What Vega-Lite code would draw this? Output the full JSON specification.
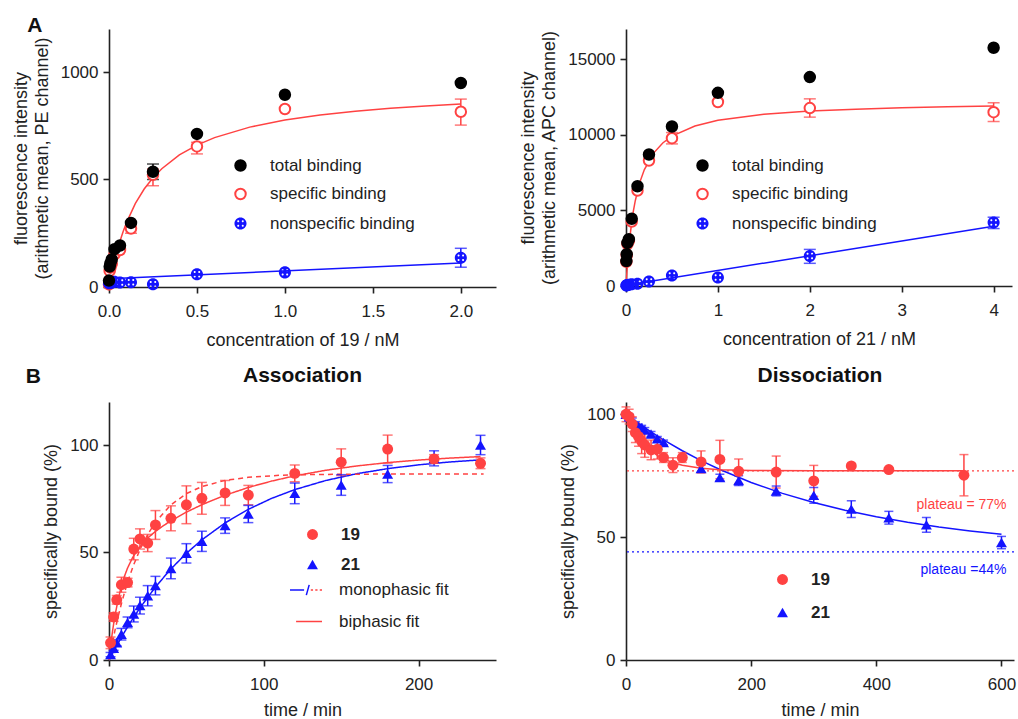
{
 "$schema": "https://vega.github.io/schema/vega-lite/v6.json",
 "padding": {"left": 12, "top": 15, "right": 2, "bottom": 3},
 "config": {
  "font": "Liberation Sans",
  "view": {"stroke": null},
  "axis": {"domainColor": "#222", "domainWidth": 1.6, "tickColor": "#222", "tickWidth": 1.6, "tickSize": 6, "labelFontSize": 17, "labelColor": "#222", "titleFontSize": 18, "titleFontWeight": "normal", "titleColor": "#222", "grid": false, "labelFlush": false, "titleLineHeight": 21},
  "axisX": {"titlePadding": 12, "labelPadding": 10},
  "axisY": {"titlePadding": 9, "labelPadding": 5},
  "legend": {"labelFontSize": 17, "labelColor": "#222", "padding": 0, "labelLimit": 300},
  "title": {"fontSize": 21, "fontWeight": "bold", "color": "#111"}
 },
 "datasets": {
  "a1": [
   {"c":0,"v":12,"type":"specific binding"},{"c":0.0039,"v":75,"type":"specific binding"},{"c":0.0078,"v":90,"type":"specific binding"},{"c":0.0156,"v":108,"type":"specific binding"},{"c":0.03125,"v":152,"type":"specific binding"},{"c":0.0625,"v":172,"type":"specific binding"},{"c":0.125,"v":272,"type":"specific binding"},{"c":0.25,"v":522,"type":"specific binding"},{"c":0.5,"v":654,"type":"specific binding"},{"c":1,"v":828,"type":"specific binding"},{"c":2,"v":815,"type":"specific binding"},
   {"c":0,"v":18,"type":"nonspecific binding"},{"c":0.0039,"v":20,"type":"nonspecific binding"},{"c":0.0078,"v":20,"type":"nonspecific binding"},{"c":0.0156,"v":20,"type":"nonspecific binding"},{"c":0.03125,"v":24,"type":"nonspecific binding"},{"c":0.0625,"v":21,"type":"nonspecific binding"},{"c":0.125,"v":22,"type":"nonspecific binding"},{"c":0.25,"v":13,"type":"nonspecific binding"},{"c":0.5,"v":59,"type":"nonspecific binding"},{"c":1,"v":68,"type":"nonspecific binding"},{"c":2,"v":136,"type":"nonspecific binding"},
   {"c":0,"v":30,"type":"total binding"},{"c":0.0039,"v":95,"type":"total binding"},{"c":0.0078,"v":110,"type":"total binding"},{"c":0.0156,"v":128,"type":"total binding"},{"c":0.03125,"v":176,"type":"total binding"},{"c":0.0625,"v":193,"type":"total binding"},{"c":0.125,"v":298,"type":"total binding"},{"c":0.25,"v":536,"type":"total binding"},{"c":0.5,"v":712,"type":"total binding"},{"c":1,"v":894,"type":"total binding"},{"c":2,"v":949,"type":"total binding"}
  ],
  "a1err": [
   {"c":0.25,"lo":500,"hi":572,"type":"total binding"},
   {"c":0.125,"lo":250,"hi":292,"type":"specific binding"},
   {"c":0.25,"lo":471,"hi":549,"type":"specific binding"},
   {"c":0.5,"lo":619,"hi":673,"type":"specific binding"},
   {"c":2,"lo":753,"hi":874,"type":"specific binding"},
   {"c":2,"lo":92,"hi":180,"type":"nonspecific binding"}
  ],
  "a1fit": [
   {"c":0,"v":0,"type":"specific binding"},{"c":0.01,"v":42.1,"type":"specific binding"},{"c":0.02,"v":80.7,"type":"specific binding"},{"c":0.04,"v":148.6,"type":"specific binding"},{"c":0.06,"v":206.7,"type":"specific binding"},{"c":0.08,"v":256.8,"type":"specific binding"},{"c":0.1,"v":300.5,"type":"specific binding"},{"c":0.15,"v":388.7,"type":"specific binding"},{"c":0.2,"v":455.6,"type":"specific binding"},{"c":0.25,"v":508.1,"type":"specific binding"},{"c":0.3,"v":550.3,"type":"specific binding"},{"c":0.4,"v":614.2,"type":"specific binding"},{"c":0.5,"v":660.1,"type":"specific binding"},{"c":0.6,"v":694.8,"type":"specific binding"},{"c":0.8,"v":743.6,"type":"specific binding"},{"c":1.0,"v":776.3,"type":"specific binding"},{"c":1.2,"v":799.7,"type":"specific binding"},{"c":1.4,"v":817.4,"type":"specific binding"},{"c":1.6,"v":831.1,"type":"specific binding"},{"c":1.8,"v":842.1,"type":"specific binding"},{"c":2.0,"v":851.1,"type":"specific binding"},
   {"c":0,"v":38,"type":"nonspecific binding"},{"c":2,"v":112,"type":"nonspecific binding"}
  ],
  "a2": [
   {"c":0.0039,"v":1600,"type":"specific binding"},{"c":0.0078,"v":2040,"type":"specific binding"},{"c":0.0156,"v":2780,"type":"specific binding"},{"c":0.03125,"v":2990,"type":"specific binding"},{"c":0.0625,"v":4260,"type":"specific binding"},{"c":0.125,"v":6310,"type":"specific binding"},{"c":0.25,"v":8300,"type":"specific binding"},{"c":0.5,"v":9780,"type":"specific binding"},{"c":1,"v":12170,"type":"specific binding"},{"c":2,"v":11770,"type":"specific binding"},{"c":4,"v":11500,"type":"specific binding"},
   {"c":0.0039,"v":30,"type":"nonspecific binding"},{"c":0.0078,"v":45,"type":"nonspecific binding"},{"c":0.0156,"v":60,"type":"nonspecific binding"},{"c":0.03125,"v":80,"type":"nonspecific binding"},{"c":0.0625,"v":110,"type":"nonspecific binding"},{"c":0.125,"v":150,"type":"nonspecific binding"},{"c":0.25,"v":300,"type":"nonspecific binding"},{"c":0.5,"v":700,"type":"nonspecific binding"},{"c":1,"v":560,"type":"nonspecific binding"},{"c":2,"v":1980,"type":"nonspecific binding"},{"c":4,"v":4200,"type":"nonspecific binding"},
   {"c":0.0039,"v":1650,"type":"total binding"},{"c":0.0078,"v":2100,"type":"total binding"},{"c":0.0156,"v":2850,"type":"total binding"},{"c":0.03125,"v":3100,"type":"total binding"},{"c":0.0625,"v":4450,"type":"total binding"},{"c":0.125,"v":6600,"type":"total binding"},{"c":0.25,"v":8700,"type":"total binding"},{"c":0.5,"v":10550,"type":"total binding"},{"c":1,"v":12780,"type":"total binding"},{"c":2,"v":13820,"type":"total binding"},{"c":4,"v":15760,"type":"total binding"}
  ],
  "a2err": [
   {"c":0.5,"lo":9400,"hi":10150,"type":"specific binding"},
   {"c":2,"lo":11170,"hi":12380,"type":"specific binding"},
   {"c":4,"lo":10880,"hi":12120,"type":"specific binding"},
   {"c":2,"lo":1500,"hi":2420,"type":"nonspecific binding"},
   {"c":4,"lo":3800,"hi":4550,"type":"nonspecific binding"}
  ],
  "a2fit": [
   {"c":0,"v":0,"type":"specific binding"},{"c":0.005,"v":498,"type":"specific binding"},{"c":0.01,"v":957,"type":"specific binding"},{"c":0.02,"v":1775,"type":"specific binding"},{"c":0.04,"v":3101,"type":"specific binding"},{"c":0.06,"v":4129,"type":"specific binding"},{"c":0.08,"v":4949,"type":"specific binding"},{"c":0.1,"v":5619,"type":"specific binding"},{"c":0.15,"v":6856,"type":"specific binding"},{"c":0.2,"v":7704,"type":"specific binding"},{"c":0.3,"v":8792,"type":"specific binding"},{"c":0.4,"v":9459,"type":"specific binding"},{"c":0.5,"v":9911,"type":"specific binding"},{"c":0.75,"v":10585,"type":"specific binding"},{"c":1,"v":10957,"type":"specific binding"},{"c":1.5,"v":11357,"type":"specific binding"},{"c":2,"v":11568,"type":"specific binding"},{"c":2.5,"v":11698,"type":"specific binding"},{"c":3,"v":11786,"type":"specific binding"},{"c":3.5,"v":11850,"type":"specific binding"},{"c":4,"v":11899,"type":"specific binding"},
   {"c":0,"v":50,"type":"nonspecific binding"},{"c":4,"v":3950,"type":"nonspecific binding"}
  ],
  "b1": [
   {"t":1,"v":2.5,"lo":1.5,"hi":3.5,"compound":"21"},{"t":3,"v":5.5,"lo":4.5,"hi":6.5,"compound":"21"},{"t":5,"v":8,"lo":6.5,"hi":9.5,"compound":"21"},{"t":8,"v":12,"lo":9.3,"hi":14.7,"compound":"21"},{"t":12,"v":17.5,"lo":15,"hi":20,"compound":"21"},{"t":16,"v":21.4,"lo":17.7,"hi":25.1,"compound":"21"},{"t":20,"v":25.3,"lo":21.4,"hi":29.2,"compound":"21"},{"t":25,"v":29.9,"lo":25.2,"hi":34.6,"compound":"21"},{"t":30,"v":34.6,"lo":30.3,"hi":38.9,"compound":"21"},{"t":40,"v":42.6,"lo":37.8,"hi":47.4,"compound":"21"},{"t":50,"v":49.6,"lo":45.1,"hi":54.1,"compound":"21"},{"t":60,"v":55.2,"lo":50.5,"hi":59.9,"compound":"21"},{"t":75,"v":62.5,"lo":58.9,"hi":66.1,"compound":"21"},{"t":90,"v":67.9,"lo":63.9,"hi":71.9,"compound":"21"},{"t":120,"v":77.5,"lo":72.7,"hi":82.3,"compound":"21"},{"t":150,"v":81.4,"lo":76.6,"hi":86.2,"compound":"21"},{"t":180,"v":86.5,"lo":82.5,"hi":90.5,"compound":"21"},{"t":210,"v":93.8,"lo":90.3,"hi":97.3,"compound":"21"},{"t":240,"v":100,"lo":95.5,"hi":104.5,"compound":"21"},
   {"t":1,"v":8,"lo":5.3,"hi":10.7,"compound":"19"},{"t":3,"v":20,"lo":18,"hi":22,"compound":"19"},{"t":5,"v":28,"lo":26,"hi":30,"compound":"19"},{"t":8,"v":35,"lo":31.5,"hi":38.5,"compound":"19"},{"t":12,"v":36,"lo":34,"hi":38,"compound":"19"},{"t":16,"v":51.6,"lo":46.6,"hi":56.6,"compound":"19"},{"t":20,"v":56.3,"lo":51.6,"hi":61,"compound":"19"},{"t":25,"v":54.4,"lo":50.4,"hi":58.4,"compound":"19"},{"t":30,"v":62.8,"lo":56.1,"hi":69.5,"compound":"19"},{"t":40,"v":65.9,"lo":60.1,"hi":71.7,"compound":"19"},{"t":50,"v":72.2,"lo":63.4,"hi":81,"compound":"19"},{"t":60,"v":75.2,"lo":67.8,"hi":82.6,"compound":"19"},{"t":75,"v":77.7,"lo":71.9,"hi":83.5,"compound":"19"},{"t":90,"v":76.7,"lo":72.2,"hi":81.2,"compound":"19"},{"t":120,"v":86.8,"lo":82.9,"hi":90.7,"compound":"19"},{"t":150,"v":92,"lo":85.8,"hi":98.2,"compound":"19"},{"t":180,"v":98.1,"lo":91.6,"hi":104.6,"compound":"19"},{"t":210,"v":93.5,"lo":91.5,"hi":95.5,"compound":"19"},{"t":240,"v":91.5,"lo":89,"hi":94,"compound":"19"}
  ],
  "b1fit": [
   {"t":0,"v":0,"compound":"21","curve":"21m","fit":"monophasic fit"},{"t":5,"v":6.74,"compound":"21","curve":"21m","fit":"monophasic fit"},{"t":10,"v":13.0,"compound":"21","curve":"21m","fit":"monophasic fit"},{"t":15,"v":18.82,"compound":"21","curve":"21m","fit":"monophasic fit"},{"t":20,"v":24.24,"compound":"21","curve":"21m","fit":"monophasic fit"},{"t":30,"v":33.96,"compound":"21","curve":"21m","fit":"monophasic fit"},{"t":40,"v":42.36,"compound":"21","curve":"21m","fit":"monophasic fit"},{"t":50,"v":49.62,"compound":"21","curve":"21m","fit":"monophasic fit"},{"t":60,"v":55.9,"compound":"21","curve":"21m","fit":"monophasic fit"},{"t":75,"v":63.76,"compound":"21","curve":"21m","fit":"monophasic fit"},{"t":90,"v":70.08,"compound":"21","curve":"21m","fit":"monophasic fit"},{"t":105,"v":75.16,"compound":"21","curve":"21m","fit":"monophasic fit"},{"t":120,"v":79.25,"compound":"21","curve":"21m","fit":"monophasic fit"},{"t":140,"v":83.48,"compound":"21","curve":"21m","fit":"monophasic fit"},{"t":160,"v":86.64,"compound":"21","curve":"21m","fit":"monophasic fit"},{"t":180,"v":89.0,"compound":"21","curve":"21m","fit":"monophasic fit"},{"t":200,"v":90.77,"compound":"21","curve":"21m","fit":"monophasic fit"},{"t":220,"v":92.09,"compound":"21","curve":"21m","fit":"monophasic fit"},{"t":240,"v":93.08,"compound":"21","curve":"21m","fit":"monophasic fit"},
   {"t":0,"v":0,"compound":"19","curve":"19m","fit":"monophasic fit"},{"t":2,"v":7.45,"compound":"19","curve":"19m","fit":"monophasic fit"},{"t":4,"v":14.25,"compound":"19","curve":"19m","fit":"monophasic fit"},{"t":6,"v":20.47,"compound":"19","curve":"19m","fit":"monophasic fit"},{"t":8,"v":26.15,"compound":"19","curve":"19m","fit":"monophasic fit"},{"t":10,"v":31.35,"compound":"19","curve":"19m","fit":"monophasic fit"},{"t":13,"v":38.31,"compound":"19","curve":"19m","fit":"monophasic fit"},{"t":16,"v":44.39,"compound":"19","curve":"19m","fit":"monophasic fit"},{"t":20,"v":51.33,"compound":"19","curve":"19m","fit":"monophasic fit"},{"t":25,"v":58.41,"compound":"19","curve":"19m","fit":"monophasic fit"},{"t":30,"v":64.08,"compound":"19","curve":"19m","fit":"monophasic fit"},{"t":40,"v":72.2,"compound":"19","curve":"19m","fit":"monophasic fit"},{"t":50,"v":77.38,"compound":"19","curve":"19m","fit":"monophasic fit"},{"t":60,"v":80.69,"compound":"19","curve":"19m","fit":"monophasic fit"},{"t":75,"v":83.54,"compound":"19","curve":"19m","fit":"monophasic fit"},{"t":90,"v":84.99,"compound":"19","curve":"19m","fit":"monophasic fit"},{"t":110,"v":85.89,"compound":"19","curve":"19m","fit":"monophasic fit"},{"t":130,"v":86.25,"compound":"19","curve":"19m","fit":"monophasic fit"},{"t":160,"v":86.44,"compound":"19","curve":"19m","fit":"monophasic fit"},{"t":200,"v":86.5,"compound":"19","curve":"19m","fit":"monophasic fit"},{"t":242,"v":86.5,"compound":"19","curve":"19m","fit":"monophasic fit"},
   {"t":0,"v":0,"compound":"19","curve":"19b","fit":"biphasic fit"},{"t":1,"v":6.32,"compound":"19","curve":"19b","fit":"biphasic fit"},{"t":2,"v":11.89,"compound":"19","curve":"19b","fit":"biphasic fit"},{"t":3,"v":16.82,"compound":"19","curve":"19b","fit":"biphasic fit"},{"t":4,"v":21.18,"compound":"19","curve":"19b","fit":"biphasic fit"},{"t":6,"v":28.49,"compound":"19","curve":"19b","fit":"biphasic fit"},{"t":8,"v":34.3,"compound":"19","curve":"19b","fit":"biphasic fit"},{"t":10,"v":38.98,"compound":"19","curve":"19b","fit":"biphasic fit"},{"t":12,"v":42.78,"compound":"19","curve":"19b","fit":"biphasic fit"},{"t":15,"v":47.3,"compound":"19","curve":"19b","fit":"biphasic fit"},{"t":18,"v":50.81,"compound":"19","curve":"19b","fit":"biphasic fit"},{"t":22,"v":54.45,"compound":"19","curve":"19b","fit":"biphasic fit"},{"t":26,"v":57.36,"compound":"19","curve":"19b","fit":"biphasic fit"},{"t":30,"v":59.8,"compound":"19","curve":"19b","fit":"biphasic fit"},{"t":35,"v":62.42,"compound":"19","curve":"19b","fit":"biphasic fit"},{"t":40,"v":64.74,"compound":"19","curve":"19b","fit":"biphasic fit"},{"t":50,"v":68.77,"compound":"19","curve":"19b","fit":"biphasic fit"},{"t":60,"v":72.24,"compound":"19","curve":"19b","fit":"biphasic fit"},{"t":75,"v":76.63,"compound":"19","curve":"19b","fit":"biphasic fit"},{"t":90,"v":80.24,"compound":"19","curve":"19b","fit":"biphasic fit"},{"t":105,"v":83.21,"compound":"19","curve":"19b","fit":"biphasic fit"},{"t":120,"v":85.65,"compound":"19","curve":"19b","fit":"biphasic fit"},{"t":140,"v":88.25,"compound":"19","curve":"19b","fit":"biphasic fit"},{"t":160,"v":90.25,"compound":"19","curve":"19b","fit":"biphasic fit"},{"t":180,"v":91.8,"compound":"19","curve":"19b","fit":"biphasic fit"},{"t":200,"v":92.99,"compound":"19","curve":"19b","fit":"biphasic fit"},{"t":220,"v":93.91,"compound":"19","curve":"19b","fit":"biphasic fit"},{"t":240,"v":94.62,"compound":"19","curve":"19b","fit":"biphasic fit"}
  ],
  "b2": [
   {"t":0,"v":100,"lo":99,"hi":101,"compound":"21"},{"t":5,"v":99,"lo":98,"hi":100,"compound":"21"},{"t":10,"v":97.5,"lo":96.5,"hi":98.5,"compound":"21"},{"t":15,"v":96,"lo":95,"hi":97,"compound":"21"},{"t":20,"v":95,"lo":94,"hi":96,"compound":"21"},{"t":25,"v":94.5,"lo":93.5,"hi":95.5,"compound":"21"},{"t":30,"v":93.6,"lo":92.6,"hi":94.6,"compound":"21"},{"t":40,"v":92,"lo":91,"hi":93,"compound":"21"},{"t":50,"v":90,"lo":89,"hi":91,"compound":"21"},{"t":60,"v":88.5,"lo":87.5,"hi":89.5,"compound":"21"},{"t":120,"v":77.9,"lo":76.4,"hi":79.4,"compound":"21"},{"t":150,"v":74.3,"lo":73,"hi":75.6,"compound":"21"},{"t":180,"v":73,"lo":71,"hi":75,"compound":"21"},{"t":240,"v":68.8,"lo":66.8,"hi":70.8,"compound":"21"},{"t":300,"v":67,"lo":63.8,"hi":70.2,"compound":"21"},{"t":360,"v":61.4,"lo":58,"hi":64.8,"compound":"21"},{"t":420,"v":57.9,"lo":55.3,"hi":60.5,"compound":"21"},{"t":480,"v":55,"lo":52,"hi":58,"compound":"21"},{"t":600,"v":47.8,"lo":45.3,"hi":50.3,"compound":"21"},
   {"t":0,"v":100,"lo":97,"hi":103,"compound":"19"},{"t":5,"v":99,"lo":96,"hi":102,"compound":"19"},{"t":10,"v":96,"lo":93,"hi":99,"compound":"19"},{"t":15,"v":92.5,"lo":88.5,"hi":96.5,"compound":"19"},{"t":20,"v":91,"lo":87,"hi":95,"compound":"19"},{"t":25,"v":89,"lo":84,"hi":94,"compound":"19"},{"t":30,"v":87.5,"lo":82.5,"hi":92.5,"compound":"19"},{"t":40,"v":85.5,"lo":81.5,"hi":89.5,"compound":"19"},{"t":50,"v":85.8,"lo":81.8,"hi":89.8,"compound":"19"},{"t":60,"v":82.4,"lo":80.4,"hi":84.4,"compound":"19"},{"t":75,"v":79.3,"lo":76.3,"hi":82.3,"compound":"19"},{"t":90,"v":82.4,"lo":80.4,"hi":84.4,"compound":"19"},{"t":120,"v":80.6,"lo":76.1,"hi":85.1,"compound":"19"},{"t":150,"v":81.6,"lo":73.8,"hi":89.4,"compound":"19"},{"t":180,"v":76.8,"lo":71.8,"hi":81.8,"compound":"19"},{"t":240,"v":76.5,"lo":70,"hi":83,"compound":"19"},{"t":300,"v":72.9,"lo":66.6,"hi":79.2,"compound":"19"},{"t":360,"v":79,"lo":78.5,"hi":79.5,"compound":"19"},{"t":420,"v":77.5,"lo":77,"hi":78,"compound":"19"},{"t":540,"v":75.2,"lo":66.8,"hi":83.6,"compound":"19"}
  ],
  "b2fit": [
   {"t":0,"v":100,"compound":"21"},{"t":20,"v":96.3,"compound":"21"},{"t":40,"v":92.84,"compound":"21"},{"t":60,"v":89.61,"compound":"21"},{"t":90,"v":85.17,"compound":"21"},{"t":120,"v":81.15,"compound":"21"},{"t":150,"v":77.53,"compound":"21"},{"t":200,"v":72.26,"compound":"21"},{"t":250,"v":67.82,"compound":"21"},{"t":300,"v":64.07,"compound":"21"},{"t":350,"v":60.92,"compound":"21"},{"t":400,"v":58.26,"compound":"21"},{"t":450,"v":56.02,"compound":"21"},{"t":500,"v":54.13,"compound":"21"},{"t":550,"v":52.54,"compound":"21"},{"t":600,"v":51.19,"compound":"21"},
   {"t":0,"v":100,"compound":"19"},{"t":5,"v":97.2,"compound":"19"},{"t":10,"v":94.73,"compound":"19"},{"t":15,"v":92.57,"compound":"19"},{"t":20,"v":90.67,"compound":"19"},{"t":30,"v":87.54,"compound":"19"},{"t":40,"v":85.13,"compound":"19"},{"t":50,"v":83.27,"compound":"19"},{"t":60,"v":81.83,"compound":"19"},{"t":75,"v":80.27,"compound":"19"},{"t":90,"v":79.22,"compound":"19"},{"t":120,"v":78.02,"compound":"19"},{"t":150,"v":77.47,"compound":"19"},{"t":200,"v":77.13,"compound":"19"},{"t":300,"v":77.01,"compound":"19"},{"t":400,"v":77.0,"compound":"19"},{"t":540,"v":77.0,"compound":"19"}
  ],
  "plateaus": [
   {"compound":"19","plateau":77,"label":"plateau = 77%"},
   {"compound":"21","plateau":44,"label":"plateau =44%"}
  ]
 },
 "resolve": {"scale": {"color": "independent", "fill": "independent", "stroke": "independent", "shape": "independent", "strokeDash": "independent"}},
 "vconcat": [
  {
   "title": {"text": "A", "anchor": "start", "fontSize": 21, "offset": -7, "dx": 15},
   "spacing": 130,
   "bounds": "flush",
   "resolve": {"scale": {"color": "independent", "fill": "independent", "stroke": "independent", "shape": "independent", "strokeDash": "independent"}},
   "hconcat": [
    {
     "width": 387, "height": 258,
     "layer": [
      {"data": {"name": "a1fit"}, "mark": {"type": "line", "strokeWidth": 1.5},
       "encoding": {
        "x": {"field": "c", "type": "quantitative", "scale": {"domain": [0, 2.2], "nice": false, "zero": false, "padding": 0}, "axis": {"title": "concentration of 19 / nM", "values": [0, 0.5, 1, 1.5, 2], "format": ".1f"}},
        "y": {"field": "v", "type": "quantitative", "scale": {"domain": [0, 1200], "nice": false, "padding": 0}, "axis": {"title": ["fluorescence intensity", "(arithmetic mean, PE channel)"], "values": [0, 500, 1000], "format": "d"}},
        "color": {"field": "type", "type": "nominal", "scale": {"domain": ["specific binding", "nonspecific binding", "total binding"], "range": ["#ff4242", "#1414ff", "#000000"]}, "legend": null}
       }},
      {"data": {"name": "a1err"}, "mark": {"type": "rule", "strokeWidth": 1.5},
       "encoding": {"x": {"field": "c", "type": "quantitative"}, "y": {"field": "lo", "type": "quantitative"}, "y2": {"field": "hi"}, "color": {"field": "type", "type": "nominal", "legend": null}}},
      {"data": {"name": "a1err"}, "mark": {"type": "tick", "orient": "horizontal", "size": 12, "thickness": 1.5},
       "encoding": {"x": {"field": "c", "type": "quantitative"}, "y": {"field": "lo", "type": "quantitative"}, "color": {"field": "type", "type": "nominal", "legend": null}}},
      {"data": {"name": "a1err"}, "mark": {"type": "tick", "orient": "horizontal", "size": 12, "thickness": 1.5},
       "encoding": {"x": {"field": "c", "type": "quantitative"}, "y": {"field": "hi", "type": "quantitative"}, "color": {"field": "type", "type": "nominal", "legend": null}}},
      {"data": {"name": "a1"}, "mark": {"type": "point", "size": 110, "strokeWidth": 2, "opacity": 1},
       "encoding": {
        "x": {"field": "c", "type": "quantitative"},
        "y": {"field": "v", "type": "quantitative"},
        "fill": {"field": "type", "type": "nominal", "scale": {"domain": ["total binding", "specific binding", "nonspecific binding"], "range": ["#000000", "#ffffff", "#1414ff"]}, "legend": {"title": null, "orient": "none", "legendX": 123, "legendY": 128, "rowPadding": 9.5, "labelOffset": 21, "symbolSize": 110, "symbolStrokeWidth": 2}},
        "stroke": {"field": "type", "type": "nominal", "scale": {"domain": ["total binding", "specific binding", "nonspecific binding"], "range": ["#000000", "#ff4242", "transparent"]}, "legend": {"title": null, "orient": "none", "legendX": 123, "legendY": 128, "rowPadding": 9.5, "labelOffset": 21, "symbolSize": 110, "symbolStrokeWidth": 2}},
        "shape": {"field": "type", "type": "nominal", "scale": {"domain": ["total binding", "specific binding", "nonspecific binding"], "range": ["circle", "circle", "M-1.15,0A1.15,1.15 0 1,1 1.15,0A1.15,1.15 0 1,1 -1.15,0ZM-0.62,-0.42A0.19,0.19 0 1,0 -0.24,-0.42A0.19,0.19 0 1,0 -0.62,-0.42ZM0.24,-0.42A0.19,0.19 0 1,0 0.62,-0.42A0.19,0.19 0 1,0 0.24,-0.42ZM-0.62,0.42A0.19,0.19 0 1,0 -0.24,0.42A0.19,0.19 0 1,0 -0.62,0.42ZM0.24,0.42A0.19,0.19 0 1,0 0.62,0.42A0.19,0.19 0 1,0 0.24,0.42Z"]}, "legend": {"title": null, "orient": "none", "legendX": 123, "legendY": 128, "rowPadding": 9.5, "labelOffset": 21, "symbolSize": 110, "symbolStrokeWidth": 2}}
       }}
     ]
    },
    {
     "width": 386, "height": 257,
     "layer": [
      {"data": {"name": "a2fit"}, "mark": {"type": "line", "strokeWidth": 1.5},
       "encoding": {
        "x": {"field": "c", "type": "quantitative", "scale": {"domain": [0, 4.2], "nice": false, "zero": false, "padding": 0}, "axis": {"title": "concentration of 21 / nM", "values": [0, 1, 2, 3, 4], "format": "d"}},
        "y": {"field": "v", "type": "quantitative", "scale": {"domain": [0, 17000], "nice": false, "padding": 0}, "axis": {"title": ["fluorescence intensity", "(arithmetic mean, APC channel)"], "values": [0, 5000, 10000, 15000], "format": "d"}},
        "color": {"field": "type", "type": "nominal", "scale": {"domain": ["specific binding", "nonspecific binding", "total binding"], "range": ["#ff4242", "#1414ff", "#000000"]}, "legend": null}
       }},
      {"data": {"name": "a2err"}, "mark": {"type": "rule", "strokeWidth": 1.5},
       "encoding": {"x": {"field": "c", "type": "quantitative"}, "y": {"field": "lo", "type": "quantitative"}, "y2": {"field": "hi"}, "color": {"field": "type", "type": "nominal", "legend": null}}},
      {"data": {"name": "a2err"}, "mark": {"type": "tick", "orient": "horizontal", "size": 12, "thickness": 1.5},
       "encoding": {"x": {"field": "c", "type": "quantitative"}, "y": {"field": "lo", "type": "quantitative"}, "color": {"field": "type", "type": "nominal", "legend": null}}},
      {"data": {"name": "a2err"}, "mark": {"type": "tick", "orient": "horizontal", "size": 12, "thickness": 1.5},
       "encoding": {"x": {"field": "c", "type": "quantitative"}, "y": {"field": "hi", "type": "quantitative"}, "color": {"field": "type", "type": "nominal", "legend": null}}},
      {"data": {"name": "a2"}, "mark": {"type": "point", "size": 110, "strokeWidth": 2, "opacity": 1},
       "encoding": {
        "x": {"field": "c", "type": "quantitative"},
        "y": {"field": "v", "type": "quantitative"},
        "fill": {"field": "type", "type": "nominal", "scale": {"domain": ["total binding", "specific binding", "nonspecific binding"], "range": ["#000000", "#ffffff", "#1414ff"]}, "legend": {"title": null, "orient": "none", "legendX": 68, "legendY": 128, "rowPadding": 9.5, "labelOffset": 21, "symbolSize": 110, "symbolStrokeWidth": 2}},
        "stroke": {"field": "type", "type": "nominal", "scale": {"domain": ["total binding", "specific binding", "nonspecific binding"], "range": ["#000000", "#ff4242", "transparent"]}, "legend": {"title": null, "orient": "none", "legendX": 68, "legendY": 128, "rowPadding": 9.5, "labelOffset": 21, "symbolSize": 110, "symbolStrokeWidth": 2}},
        "shape": {"field": "type", "type": "nominal", "scale": {"domain": ["total binding", "specific binding", "nonspecific binding"], "range": ["circle", "circle", "M-1.15,0A1.15,1.15 0 1,1 1.15,0A1.15,1.15 0 1,1 -1.15,0ZM-0.62,-0.42A0.19,0.19 0 1,0 -0.24,-0.42A0.19,0.19 0 1,0 -0.62,-0.42ZM0.24,-0.42A0.19,0.19 0 1,0 0.62,-0.42A0.19,0.19 0 1,0 0.24,-0.42ZM-0.62,0.42A0.19,0.19 0 1,0 -0.24,0.42A0.19,0.19 0 1,0 -0.62,0.42ZM0.24,0.42A0.19,0.19 0 1,0 0.62,0.42A0.19,0.19 0 1,0 0.24,0.42Z"]}, "legend": {"title": null, "orient": "none", "legendX": 68, "legendY": 128, "rowPadding": 9.5, "labelOffset": 21, "symbolSize": 110, "symbolStrokeWidth": 2}}
       }}
     ]
    }
   ]
  },
  {
   "title": {"text": "B", "anchor": "start", "fontSize": 21, "offset": -22, "dx": -17},
   "spacing": 130,
   "bounds": "flush",
   "resolve": {"scale": {"color": "independent", "fill": "independent", "stroke": "independent", "shape": "independent", "strokeDash": "independent"}},
   "hconcat": [
    {
     "width": 387, "height": 258,
     "title": {"text": "Association", "offset": 16},
     "layer": [
      {"layer": [
       {"data": {"name": "b1fit"}, "mark": {"type": "line", "strokeWidth": 1.5},
        "encoding": {
         "x": {"field": "t", "type": "quantitative", "scale": {"domain": [0, 250], "nice": false, "zero": false, "padding": 0}, "axis": {"title": "time / min", "values": [0, 100, 200], "titlePadding": 9}},
         "y": {"field": "v", "type": "quantitative", "scale": {"domain": [0, 120], "nice": false, "padding": 0}, "axis": {"title": "specifically bound (%)", "values": [0, 50, 100]}},
         "color": {"field": "compound", "type": "nominal", "scale": {"domain": ["21", "19"], "range": ["#1414ff", "#ff4242"]}, "legend": null},
         "strokeDash": {"field": "curve", "type": "nominal", "scale": {"domain": ["19m", "19b", "21m"], "range": [[5, 4], [1, 0], [1, 0]]}, "legend": null}
        }},
       {"data": {"name": "b1"}, "mark": {"type": "rule", "strokeWidth": 1.5},
        "encoding": {"x": {"field": "t", "type": "quantitative"}, "y": {"field": "lo", "type": "quantitative"}, "y2": {"field": "hi"}, "color": {"field": "compound", "type": "nominal", "legend": null}}},
       {"data": {"name": "b1"}, "mark": {"type": "tick", "orient": "horizontal", "size": 10, "thickness": 1.5},
        "encoding": {"x": {"field": "t", "type": "quantitative"}, "y": {"field": "lo", "type": "quantitative"}, "color": {"field": "compound", "type": "nominal", "legend": null}}},
       {"data": {"name": "b1"}, "mark": {"type": "tick", "orient": "horizontal", "size": 10, "thickness": 1.5},
        "encoding": {"x": {"field": "t", "type": "quantitative"}, "y": {"field": "hi", "type": "quantitative"}, "color": {"field": "compound", "type": "nominal", "legend": null}}},
       {"data": {"name": "b1"}, "mark": {"type": "point", "filled": true, "size": 120, "opacity": 1},
        "encoding": {
         "x": {"field": "t", "type": "quantitative"},
         "y": {"field": "v", "type": "quantitative"},
         "fill": {"field": "compound", "type": "nominal", "scale": {"domain": ["19", "21"], "range": ["#ff4242", "#1414ff"]}, "legend": {"title": null, "orient": "none", "legendX": 195, "legendY": 124, "rowPadding": 12, "labelOffset": 20, "labelFontWeight": "bold", "symbolSize": 120}},
         "shape": {"field": "compound", "type": "nominal", "scale": {"domain": ["19", "21"], "range": ["circle", "triangle-up"]}, "legend": {"title": null, "orient": "none", "legendX": 195, "legendY": 124, "rowPadding": 12, "labelOffset": 20, "labelFontWeight": "bold", "symbolSize": 120}}
        }}
      ]},
      {"layer": [
       {"data": {"name": "b1fit"}, "mark": {"type": "point", "opacity": 0},
        "encoding": {
         "x": {"field": "t", "type": "quantitative"},
         "y": {"field": "v", "type": "quantitative"},
         "shape": {"field": "fit", "type": "nominal", "scale": {"domain": ["monophasic fit", "biphasic fit"], "range": ["M-1,0L-0.12,0M0.02,0.32L0.2,-0.32", "M-0.62,0L1,0"]}, "legend": {"title": null, "orient": "none", "legendX": 180, "legendY": 171, "rowPadding": 5.5, "labelOffset": 16, "symbolSize": 1024, "symbolStrokeWidth": 1.5, "symbolOpacity": 1}},
         "stroke": {"field": "fit", "type": "nominal", "scale": {"domain": ["monophasic fit", "biphasic fit"], "range": ["#1414ff", "#ff4242"]}, "legend": {"title": null, "orient": "none", "legendX": 180, "legendY": 171, "rowPadding": 5.5, "labelOffset": 16, "symbolSize": 1024, "symbolStrokeWidth": 1.5, "symbolOpacity": 1}}
        }},
       {"data": {"name": "b1fit"}, "transform": [{"filter": "datum.curve == '19m'"}], "mark": {"type": "point", "opacity": 0, "color": "#ff4242"},
        "encoding": {
         "x": {"field": "t", "type": "quantitative"},
         "y": {"field": "v", "type": "quantitative"},
         "strokeDash": {"field": "fit", "type": "nominal", "scale": {"domain": ["monophasic fit"], "range": [[1, 0]]}, "legend": {"title": null, "orient": "none", "legendX": 180, "legendY": 171, "rowPadding": 5.5, "labelOffset": 16, "symbolSize": 1024, "symbolStrokeWidth": 1.5, "symbolOpacity": 1, "symbolType": "M0.3,0L0.44,0M0.58,0L0.72,0M0.86,0L1,0", "symbolStrokeColor": "#ff4242", "labelColor": "transparent"}}
        }}
      ]}
     ],
     "resolve": {"scale": {"shape": "independent", "stroke": "independent", "strokeDash": "independent", "fill": "independent"}}
    },
    {
     "width": 388, "height": 258,
     "title": {"text": "Dissociation", "offset": 16},
     "layer": [
      {"data": {"name": "plateaus"}, "mark": {"type": "rule", "strokeWidth": 1.3, "strokeDash": [2, 3]},
       "encoding": {
        "y": {"field": "plateau", "type": "quantitative", "scale": {"domain": [0, 105], "nice": false, "padding": 0}, "axis": {"title": "specifically bound (%)", "values": [0, 50, 100]}},
        "color": {"field": "compound", "type": "nominal", "scale": {"domain": ["21", "19"], "range": ["#1414ff", "#ff4242"]}, "legend": null}
       }},
      {"data": {"name": "b2fit"}, "mark": {"type": "line", "strokeWidth": 1.5},
       "encoding": {
        "x": {"field": "t", "type": "quantitative", "scale": {"domain": [0, 620], "nice": false, "zero": false, "padding": 0}, "axis": {"title": "time / min", "values": [0, 200, 400, 600], "titlePadding": 9}},
        "y": {"field": "v", "type": "quantitative"},
        "color": {"field": "compound", "type": "nominal", "legend": null}
       }},
      {"data": {"name": "plateaus"}, "transform": [{"filter": "datum.compound == '19'"}], "mark": {"type": "text", "align": "right", "baseline": "top", "dy": 27, "fontSize": 14},
       "encoding": {"x": {"datum": 608}, "y": {"field": "plateau", "type": "quantitative"}, "text": {"field": "label"}, "color": {"field": "compound", "type": "nominal", "legend": null}}},
      {"data": {"name": "plateaus"}, "transform": [{"filter": "datum.compound == '21'"}], "mark": {"type": "text", "align": "right", "baseline": "top", "dy": 11, "fontSize": 14},
       "encoding": {"x": {"datum": 608}, "y": {"field": "plateau", "type": "quantitative"}, "text": {"field": "label"}, "color": {"field": "compound", "type": "nominal", "legend": null}}},
      {"data": {"name": "b2"}, "mark": {"type": "rule", "strokeWidth": 1.5},
       "encoding": {"x": {"field": "t", "type": "quantitative"}, "y": {"field": "lo", "type": "quantitative"}, "y2": {"field": "hi"}, "color": {"field": "compound", "type": "nominal", "legend": null}}},
      {"data": {"name": "b2"}, "mark": {"type": "tick", "orient": "horizontal", "size": 9, "thickness": 1.5},
       "encoding": {"x": {"field": "t", "type": "quantitative"}, "y": {"field": "lo", "type": "quantitative"}, "color": {"field": "compound", "type": "nominal", "legend": null}}},
      {"data": {"name": "b2"}, "mark": {"type": "tick", "orient": "horizontal", "size": 9, "thickness": 1.5},
       "encoding": {"x": {"field": "t", "type": "quantitative"}, "y": {"field": "hi", "type": "quantitative"}, "color": {"field": "compound", "type": "nominal", "legend": null}}},
      {"data": {"name": "b2"}, "mark": {"type": "point", "filled": true, "size": 120, "opacity": 1},
       "encoding": {
        "x": {"field": "t", "type": "quantitative"},
        "y": {"field": "v", "type": "quantitative"},
        "fill": {"field": "compound", "type": "nominal", "scale": {"domain": ["19", "21"], "range": ["#ff4242", "#1414ff"]}, "legend": {"title": null, "orient": "none", "legendX": 148, "legendY": 169, "rowPadding": 15, "labelOffset": 20, "labelFontWeight": "bold", "symbolSize": 120}},
        "shape": {"field": "compound", "type": "nominal", "scale": {"domain": ["19", "21"], "range": ["circle", "triangle-up"]}, "legend": {"title": null, "orient": "none", "legendX": 148, "legendY": 169, "rowPadding": 15, "labelOffset": 20, "labelFontWeight": "bold", "symbolSize": 120}}
       }}
     ]
    }
   ]
  }
 ],
 "spacing": 373,
 "bounds": "flush"
}
